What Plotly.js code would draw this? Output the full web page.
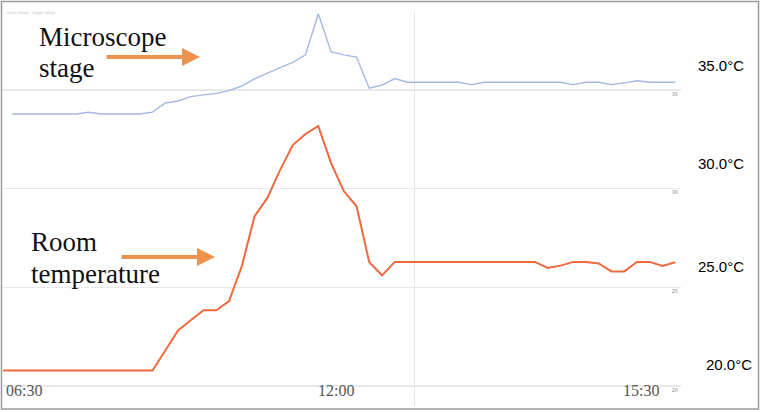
<!DOCTYPE html>
<html>
<head>
<meta charset="utf-8">
<script src="https://cdn.plot.ly/plotly-3.0.1.min.js"></script>
<style>
  html, body { margin: 0; padding: 0; background: #ffffff; }
  #chart { width: 761px; height: 412px; }
</style>
</head>
<body>
<div id="chart"></div>
<script>
// Sample index (one reading per step)
const stageIndex = [0,1,2,3,4,5,6,7,8,9,10,11,12,13,14,15,16,17,18,19,20,21,22,23,24,25,26,27,28,29,30,31,32,33,34,35,36,37,38,39,40,41,42,43,44,45,46,47,48,49,50,51,52];
// Microscope stage temperature (°C)
const stageTemp = [33.78,33.78,33.78,33.78,33.78,33.78,33.87,33.78,33.78,33.78,33.78,33.88,34.34,34.44,34.66,34.75,34.83,34.97,35.20,35.56,35.86,36.13,36.40,36.78,38.86,36.94,36.78,36.67,35.09,35.25,35.58,35.39,35.39,35.39,35.39,35.39,35.27,35.39,35.39,35.39,35.39,35.39,35.39,35.39,35.27,35.39,35.39,35.27,35.36,35.47,35.39,35.39,35.39];

const roomIndex = [-1,0,1,2,3,4,5,6,7,8,9,10,11,12,13,14,15,16,17,18,19,20,21,22,23,24,25,26,27,28,29,30,31,32,33,34,35,36,37,38,39,40,41,42,43,44,45,46,47,48,49,50,51,52];
// Room temperature (°C)
const roomTemp = [20.79,20.79,20.79,20.79,20.79,20.79,20.79,20.79,20.79,20.79,20.79,20.79,20.79,21.80,22.82,23.33,23.84,23.84,24.30,26.07,28.60,29.52,30.94,32.21,32.77,33.17,31.30,29.88,29.11,26.27,25.61,26.29,26.29,26.29,26.29,26.29,26.29,26.29,26.29,26.29,26.29,26.29,26.29,25.98,26.10,26.29,26.29,26.21,25.81,25.81,26.29,26.29,26.09,26.27];

// Time tick labels
const timeTickPos = [0.88, 25.4, 49.3];
const timeTickText = ["06:30", "12:00", "15:30"];
// Vertical grid positions
const vGridPos = [31.58, 52.37];

// Temperature ticks
const tempTicks = [20, 25, 30, 35];
const tempTickText = ["20", "25", "30", "35"];
const bigLabelShift = [22, 20.5, 25, 24];
const bigLabelX = [1.0715, 1.0597, 1.0597, 1.0597];

const xRange = [-0.73, 52.45];
const yRange = [18.99, 38.95];

const traces = [
  { x: stageIndex, y: stageTemp, type: "scatter", mode: "lines",
    line: { color: "#A4B8E5", width: 1.4 }, hoverinfo: "skip", showlegend: false },
  { x: roomIndex, y: roomTemp, type: "scatter", mode: "lines",
    line: { color: "#F0693F", width: 2 }, hoverinfo: "skip", showlegend: false }
];

const serif = "Liberation Serif, Times New Roman, serif";
const annotations = [];
tempTicks.forEach((t, i) => {
  annotations.push({
    xref: "paper", yref: "y", x: bigLabelX[i], y: t, yshift: bigLabelShift[i],
    text: t.toFixed(1) + "°C", showarrow: false, xanchor: "center", yanchor: "middle",
    font: { family: "Liberation Sans, Arial, sans-serif", size: 15, color: "#000" }
  });
});
timeTickText.forEach((t, i) => {
  annotations.push({
    xref: "x", yref: "paper", x: timeTickPos[i], y: 0.04, text: t, showarrow: false,
    xanchor: "center", yanchor: "middle", font: { family: serif, size: 16, color: "#555" }
  });
});
const textLabels = [
  { text: "Microscope", x: 0.0495, y: 0.937 },
  { text: "stage", x: 0.0495, y: 0.857 },
  { text: "Room", x: 0.039, y: 0.415 },
  { text: "temperature", x: 0.039, y: 0.336 }
];
textLabels.forEach(l => annotations.push({
  xref: "paper", yref: "paper", x: l.x, y: l.y, text: l.text, showarrow: false,
  xanchor: "left", yanchor: "middle", font: { family: serif, size: 27, color: "#111" }
}));
// Arrows
[[0.2906, 0.8858], [0.3127, 0.3782]].forEach(p => annotations.push({
  xref: "paper", yref: "paper", x: p[0], y: p[1], text: "", showarrow: true,
  ax: -95, ay: 0, arrowhead: 2, arrowsize: 0.9, arrowwidth: 4, arrowcolor: "#EE934E"
}));
// faint tiny caption
annotations.push({ xref: "paper", yref: "paper", x: 0.002, y: 1.0, text: "room temp · stage temp",
  showarrow: false, xanchor: "left", yanchor: "middle", font: { family: "DejaVu Sans", size: 4, color: "#c4c4c4" } });

const layout = {
  width: 761, height: 412,
  margin: { l: 3, r: 80, t: 12, b: 6, pad: 0 },
  paper_bgcolor: "#ffffff", plot_bgcolor: "#ffffff",
  showlegend: false,
  xaxis: {
    range: xRange, showticklabels: false,
    ticks: "", showgrid: false, zeroline: false, showline: false
  },
  xaxis2: {
    overlaying: "x", range: xRange, tickmode: "array", tickvals: vGridPos,
    showticklabels: false, ticks: "", showgrid: true, gridcolor: "#e4e4e4", gridwidth: 1,
    zeroline: false, showline: false
  },
  yaxis: {
    range: yRange, side: "right", tickmode: "array", tickvals: tempTicks, ticktext: tempTickText,
    ticks: "", showgrid: true, gridcolor: "#e8e8e8", gridwidth: 1.2, zeroline: false, showline: false,
    ticklabelposition: "inside", ticklabelshift: 4,
    tickfont: { family: "DejaVu Sans", size: 5, color: "#888" }
  },
  annotations: annotations,
  shapes: [
    { type: "rect", xref: "paper", yref: "paper", x0: -0.0022, x1: 1.1143, y0: -0.0076, y1: 1.0267,
      line: { color: "#9a9a9a", width: 1.5 }, fillcolor: "rgba(0,0,0,0)" }
  ]
};

// invisible point to activate xaxis2 gridlines
traces.push({ x: [xRange[0]], y: [yRange[0]], xaxis: "x2", type: "scatter", mode: "markers",
  marker: { opacity: 0 }, hoverinfo: "skip", showlegend: false });

Plotly.newPlot("chart", traces, layout, { displayModeBar: false, staticPlot: true });
</script>
</body>
</html>
